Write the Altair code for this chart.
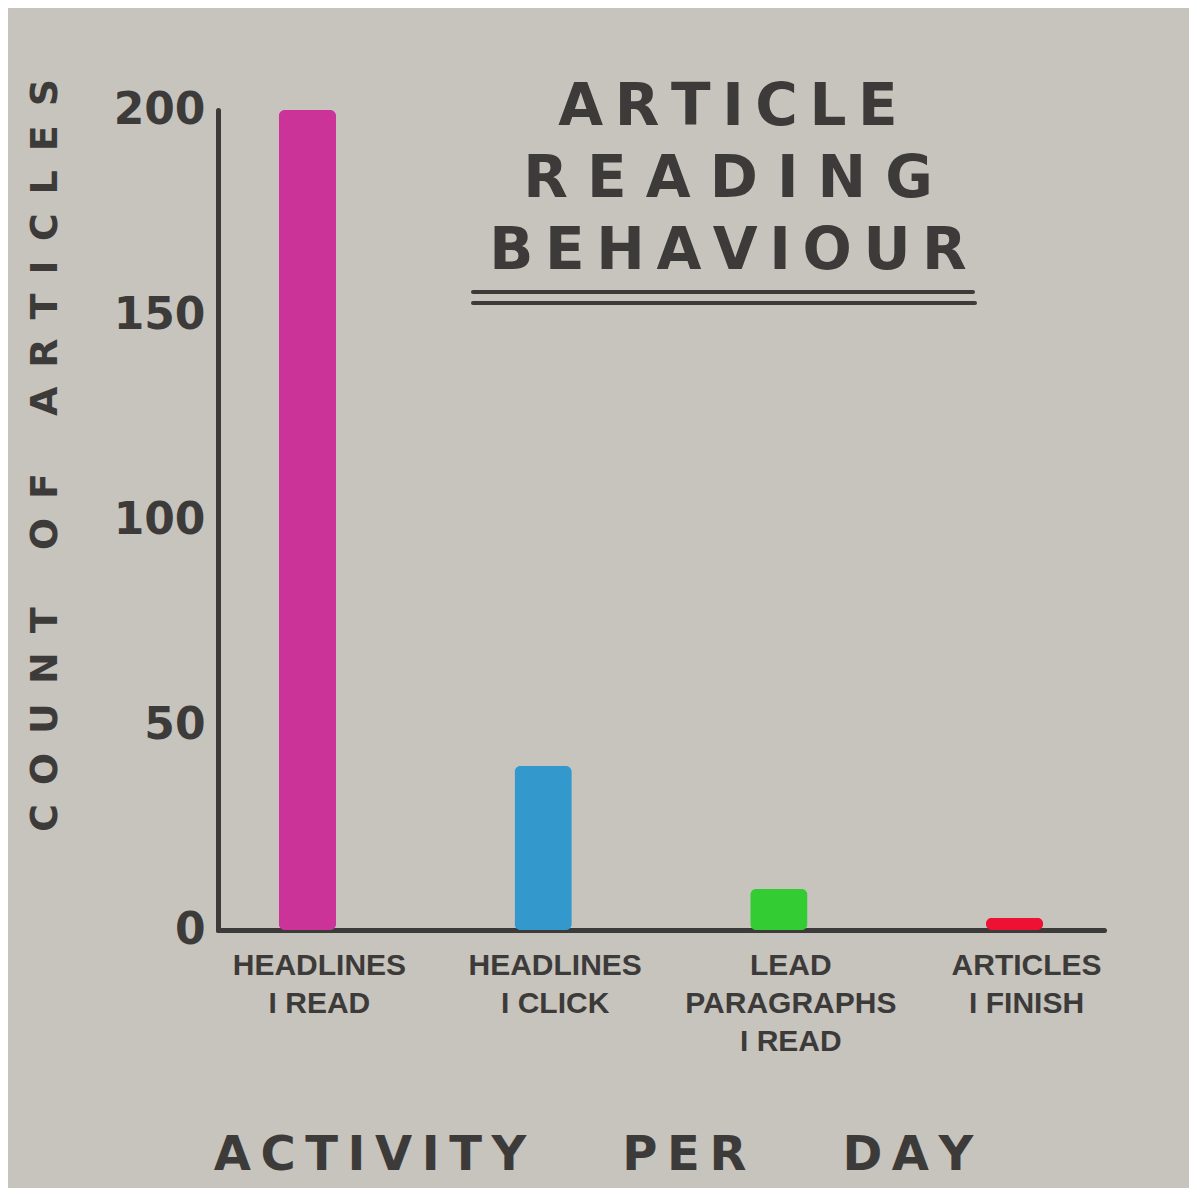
import altair as alt
import pandas as pd

categories = ["HEADLINES|I READ", "HEADLINES|I CLICK", "LEAD|PARAGRAPHS|I READ", "ARTICLES|I FINISH"]
values = [200, 40, 10, 3]
bar_colors = ["#cc3399", "#3399cc", "#33cc33", "#ee1133"]
y_ticks = [0, 50, 100, 150, 200]

title_lines = ["A\u2009R\u2009T\u2009I\u2009C\u2009L\u2009E",
               "R\u2004E\u2004A\u2004D\u2004I\u2004N\u2004G",
               "B\u2009E\u2009H\u2009A\u2009V\u2009I\u2009O\u2009U\u2009R"]
y_title = "C\u2002O\u2002U\u2002N\u2002T\u2003\u2002O\u2002F\u2003\u2002A\u2002R\u2002T\u2002I\u2002C\u2002L\u2002E\u2002S"
x_title = "A\u2009C\u2009T\u2009I\u2009V\u2009I\u2009T\u2009Y\u2003\u2003P\u2009E\u2009R\u2003\u2003D\u2009A\u2009Y"

ink = "#3d3b39"
bg = "#c7c4be"

df = pd.DataFrame({"category": categories, "count": values})

bars = alt.Chart(df).mark_bar(cornerRadius=6).encode(
    x=alt.X("category:N", sort=categories,
            scale=alt.Scale(paddingInner=0.757, paddingOuter=0.258),
            axis=alt.Axis(labelExpr="split(datum.label, '|')", labelAngle=0,
                          labelFont="Liberation Sans", labelFontWeight="bold",
                          labelFontSize=30, labelColor=ink, labelPadding=20,
                          labelLineHeight=38, labelBaseline="top", labelOffset=12,
                          labelLimit=0, ticks=False, domainColor=ink, domainWidth=5,
                          domainCap="round",
                          title=x_title, titleFont="DejaVu Sans", titleFontWeight="bold",
                          titleFontSize=48, titleColor=ink, titleX=375, titleY=225,
                          titleAlign="center", titleBaseline="middle")),
    y=alt.Y("count:Q", scale=alt.Scale(domain=[0, 200], nice=False),
            axis=alt.Axis(values=y_ticks, ticks=False, grid=False, domainColor=ink,
                          domainWidth=5, domainCap="round",
                          labelFont="DejaVu Sans", labelFontWeight="bold",
                          labelFontSize=44, labelColor=ink, labelPadding=13,
                          title=y_title, titleFont="DejaVu Sans", titleFontWeight="bold",
                          titleFontSize=38, titleColor=ink, titleAngle=270,
                          titleX=-173, titleY=345, titleAlign="center",
                          titleBaseline="middle")),
    color=alt.Color("category:N", scale=alt.Scale(domain=categories, range=bar_colors),
                    legend=None),
)

rule1 = alt.Chart(alt.Data(values=[{}])).mark_rule(color=ink, strokeWidth=4, strokeCap="round").encode(
    x=alt.value(255), x2=alt.value(755), y=alt.value(182))
rule2 = alt.Chart(alt.Data(values=[{}])).mark_rule(color=ink, strokeWidth=4, strokeCap="round").encode(
    x=alt.value(255), x2=alt.value(757), y=alt.value(193))

chart = alt.layer(bars, rule1, rule2).properties(
    width=886, height=820,
    title=alt.TitleParams(text=title_lines, font="DejaVu Sans", fontWeight="bold",
                          fontSize=58, lineHeight=72, color=ink, anchor="middle",
                          baseline="top", offset=0, dx=67, dy=203),
    padding={"left": 210, "top": 102, "right": 85, "bottom": 258},
    autosize=alt.AutoSizeParams(type="none"),
).configure(background=bg).configure_view(stroke=None)

chart.save("out.html", embed_options={"renderer": "svg", "actions": False})
